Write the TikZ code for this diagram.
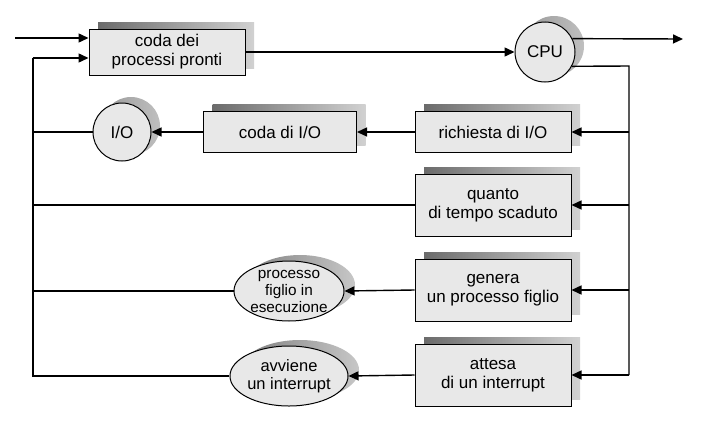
\documentclass[tikz,border=0pt]{standalone}
\usepackage{fontspec}
\setmainfont{Liberation Sans}
\usetikzlibrary{arrows.meta,shapes.geometric,shadows}
\begin{document}
\begin{tikzpicture}[x=1pt,y=-1pt,
  shd/.style={general shadow={shadow xshift=9pt, shadow yshift=7pt, left color=black!58, right color=black!18}},
  rshd/.style={general shadow={shadow xshift=9pt, shadow yshift=6pt, left color=black!40, right color=black!25}},
  box/.style={draw, line width=1pt, fill=black!9, minimum width=156pt, inner sep=0pt, align=center,
    font=\fontsize{17}{19}\selectfont, shd},
  circ/.style={circle, draw, line width=1pt, fill=black!9, minimum size=60pt, inner sep=0pt,
    font=\fontsize{17}{19}\selectfont, rshd},
  ell/.style={ellipse, draw, line width=1pt, fill=black!9, minimum width=110pt, minimum height=60pt, inner sep=0pt, align=center,
    general shadow={shadow xshift=11pt, shadow yshift=6pt, left color=black!50, right color=black!22}},
  conn/.style={line width=1.4pt},
  arr/.style={line width=1.4pt, -{Triangle[length=10pt,width=9pt]}},
]
\useasboundingbox (0,0) rectangle (711,423);

% nodes
\node[box, minimum height=46pt] (pronti) at (167,52) {coda dei\\processi pronti};
\node[circ] (cpu) at (545,52) {CPU};
\node[box, minimum height=41pt] (richiesta) at (493,132) {richiesta di I/O};
\node[box, minimum height=41pt, minimum width=153pt] (codaio) at (280,132) {coda di I/O};
\node[circ, minimum size=58pt] (io) at (122,132) {I/O};
\node[box, minimum height=62pt] (quanto) at (493,205) {quanto\\di tempo scaduto};
\node[box, minimum height=62pt] (genera) at (493,290) {genera\\un processo figlio};
\node[box, minimum height=62pt] (attesa) at (493,375) {attesa\\di un interrupt};
\node[ell, font=\fontsize{15.3}{17}\selectfont] (figlio) at (289,291) {processo\\figlio in\\esecuzione};
\node[ell, font=\fontsize{16.5}{18.5}\selectfont] (intr) at (289,376) {avviene\\un interrupt};

% coordinates
\coordinate (in) at (15,38);
\coordinate (out) at (683,39);
\coordinate (rb) at (629,66);
\coordinate (lb) at (33,58);

% top
\draw[arr] (in) -- (in -| pronti.west);
\draw[arr] (pronti.east |- cpu.west) -- (cpu.west);
\draw[arr] (cpu.26) -- (out);
\draw[conn] (cpu.-28) -- (rb) -- (rb |- attesa.east);

% right branches
\draw[arr] (rb |- richiesta.east) -- (richiesta.east);
\draw[arr] (rb |- quanto.east) -- (quanto.east);
\draw[arr] (rb |- genera.east) -- (genera.east);
\draw[arr] (rb |- attesa.east) -- (attesa.east);

% middle
\draw[arr] (richiesta.west) -- (codaio.east);
\draw[arr] (codaio.west) -- (io.east);
\draw[arr] (genera.west) -- (figlio.east);
\draw[arr] (attesa.west) -- (intr.east);

% feedback
\draw[conn] (io.west) -- (io.west -| lb);
\draw[conn] (quanto.west) -- (quanto.west -| lb);
\draw[conn] (figlio.west) -- (figlio.west -| lb);
\draw[line width=2pt] (intr.west) -| (lb);
\draw[line width=1.4pt, -{Triangle[length=10pt,width=9pt]}] ([xshift=-0.3pt]lb) -- (lb -| pronti.west);
\end{tikzpicture}
\end{document}
